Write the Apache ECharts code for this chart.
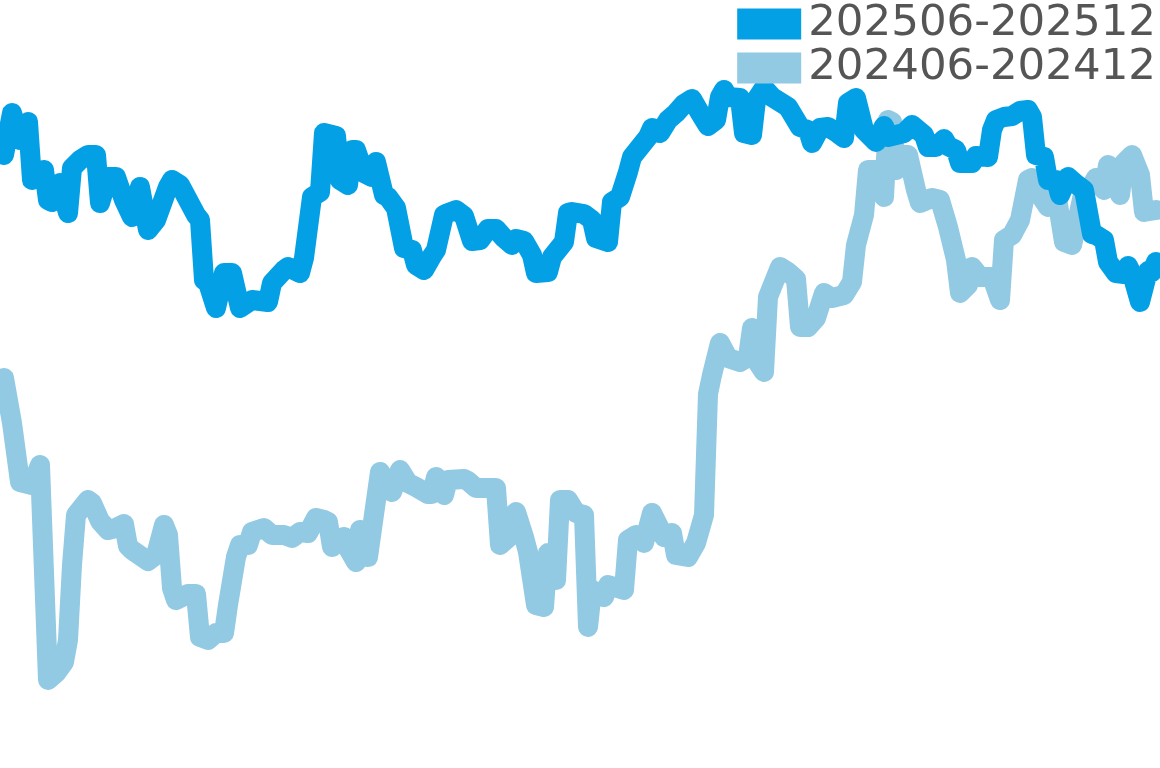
<!DOCTYPE html>
<html lang="en" style="height: 100%">
<head>
    <meta charset="utf-8">
    <title>ECharts</title>
    <script src="https://cdn.jsdelivr.net/npm/echarts@6/dist/echarts.min.js"></script>
</head>
<body style="height: 100%; margin: 0">
<div id="main" style="width:1160px;height:768px"></div>
<script type="text/javascript">
    // trading-day position (half-day steps) and value
    var recentDays = [0, 2, 4, 6, 7, 10, 11, 12, 14, 16, 17, 19, 21, 23, 24, 26, 28, 30, 32, 34, 36, 38, 41, 42, 44, 46, 48, 49, 50, 51, 53, 55, 57, 59, 62, 66, 67, 70, 71, 74, 75, 77, 79, 80, 83, 84, 86, 87, 88, 90, 92, 93, 95, 96, 98, 100, 102, 103, 105, 107, 108, 110, 111, 113, 115, 117, 119, 121, 123, 125, 127, 128, 130, 132, 133, 136, 137, 140, 141, 142, 145, 147, 148, 151, 152, 154, 156, 157, 160, 161, 162, 164, 166, 168, 170, 172, 174, 176, 178, 179, 180, 181, 184, 185, 187, 188, 190, 192, 194, 196, 199, 201, 202, 204, 206, 208, 210, 211, 213, 215, 218, 220, 221, 225, 227, 230, 231, 233, 235, 236, 238, 239, 242, 243, 246, 247, 248, 250, 252, 254, 256, 257, 258, 260, 261, 263, 264, 266, 268, 270, 272, 273, 275, 276, 278, 280, 281, 282, 284, 286, 287, 288];
    var recentValues = [613, 655, 628, 646, 588, 598, 568, 566, 585, 555, 600, 608, 613, 613, 565, 591, 591, 568, 551, 581, 538, 548, 581, 588, 583, 568, 553, 548, 488, 485, 460, 495, 495, 460, 468, 466, 485, 498, 501, 495, 510, 571, 576, 635, 632, 588, 583, 618, 618, 595, 591, 606, 573, 571, 560, 520, 518, 503, 498, 512, 518, 553, 555, 558, 552, 527, 528, 539, 539, 530, 523, 529, 527, 513, 495, 496, 511, 526, 555, 556, 554, 548, 530, 526, 566, 571, 596, 611, 626, 631, 640, 635, 648, 655, 664, 669, 655, 642, 648, 671, 678, 671, 670, 635, 633, 668, 680, 671, 666, 661, 641, 638, 625, 640, 641, 636, 630, 665, 670, 638, 626, 642, 631, 635, 643, 633, 621, 621, 629, 622, 618, 605, 605, 612, 611, 638, 648, 651, 652, 657, 658, 651, 613, 611, 588, 588, 573, 591, 584, 578, 534, 533, 528, 506, 495, 494, 502, 494, 466, 497, 496, 506];

    var lastYearDays = [0, 2, 4, 7, 9, 11, 13, 15, 16, 17, 18, 21, 22, 24, 26, 28, 30, 31, 32, 36, 38, 40, 41, 42, 43, 46, 48, 49, 51, 53, 55, 56, 58, 59, 61, 62, 65, 67, 70, 72, 74, 76, 78, 80, 81, 82, 85, 86, 88, 89, 91, 94, 97, 99, 101, 103, 106, 107, 108, 110, 111, 115, 116, 118, 123, 124, 126, 128, 130, 131, 133, 135, 136, 138, 139, 141, 143, 145, 146, 147, 150, 151, 155, 156, 158, 160, 162, 165, 167, 168, 171, 173, 175, 176, 177, 179, 181, 184, 186, 187, 188, 190, 191, 194, 196, 198, 199, 201, 203, 205, 207, 210, 212, 213, 215, 216, 218, 220, 221, 222, 223, 225, 226, 228, 229, 232, 234, 236, 238, 239, 241, 242, 244, 247, 249, 250, 252, 254, 256, 257, 259, 261, 263, 265, 267, 270, 272, 273, 275, 276, 278, 279, 280, 282, 284, 285, 288];
    var lastYearValues = [390, 345, 286, 283, 303, 88, 95, 106, 128, 203, 253, 268, 265, 247, 238, 240, 244, 222, 218, 207, 213, 243, 233, 180, 168, 174, 174, 131, 128, 135, 135, 163, 211, 223, 223, 236, 240, 233, 233, 230, 236, 235, 250, 248, 246, 221, 231, 220, 206, 238, 211, 296, 276, 298, 285, 281, 274, 274, 291, 273, 288, 289, 287, 280, 280, 223, 230, 256, 231, 216, 163, 161, 215, 188, 268, 268, 255, 253, 141, 178, 171, 183, 178, 228, 233, 225, 255, 231, 235, 213, 211, 225, 253, 374, 393, 425, 410, 406, 411, 440, 408, 396, 471, 501, 496, 489, 441, 441, 450, 475, 470, 473, 486, 523, 553, 598, 598, 571, 648, 646, 598, 613, 613, 578, 565, 570, 568, 541, 508, 475, 483, 501, 491, 491, 468, 528, 533, 548, 588, 590, 573, 561, 576, 526, 523, 578, 583, 590, 578, 603, 598, 573, 605, 613, 593, 556, 558];

    var seriesNames = ['202506-202512', '202406-202412'];
    var seriesColors = ['#04A0E6', '#92C9E3'];

    function pairs(days, values) {
        var out = [];
        for (var i = 0; i < days.length; i++) {
            out.push([days[i], values[i]]);
        }
        return out;
    }

    var chart = echarts.init(document.getElementById('main'));
    var option = {
        animation: false,
        grid: {left: 4, right: 4, top: 0, bottom: 0},
        legend: {
            orient: 'vertical',
            right: 4,
            top: 2,
            padding: 0,
            itemGap: 0,
            itemWidth: 64,
            itemHeight: 31,
            icon: 'rect',
            data: seriesNames,
            textStyle: {
                fontFamily: 'DejaVu Sans',
                fontSize: 43.5,
                lineHeight: 44,
                padding: [0, 0, 0, 2],
                color: '#555555'
            }
        },
        xAxis: {type: 'value', min: 0, max: 288, show: false},
        yAxis: {type: 'value', min: 0, max: 768, show: false},
        series: [
            {
                name: seriesNames[1],
                type: 'line',
                symbol: 'none',
                color: seriesColors[1],
                lineStyle: {width: 20, cap: 'round', join: 'round'},
                data: pairs(lastYearDays, lastYearValues)
            },
            {
                name: seriesNames[0],
                type: 'line',
                symbol: 'none',
                color: seriesColors[0],
                lineStyle: {width: 20, cap: 'round', join: 'round'},
                data: pairs(recentDays, recentValues)
            }
        ]
    };
    chart.setOption(option);
</script>
</body>
</html>
